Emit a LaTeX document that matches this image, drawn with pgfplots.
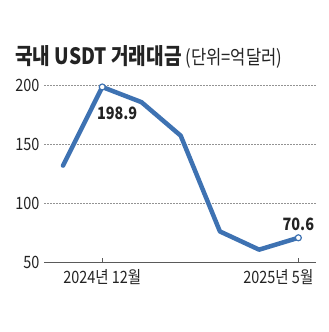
\documentclass[border=0pt]{standalone}
\usepackage{fontspec}
\setmainfont{Noto Sans CJK KR}[FakeStretch=0.85]
\usepackage{pgfplots}
\pgfplotsset{compat=1.18}
\definecolor{lineblue}{RGB}{62,114,178}
\definecolor{txt}{RGB}{35,35,35}
\begin{document}
\begin{tikzpicture}
\path[use as bounding box] (-44pt,-70pt) rectangle (285pt,262pt);
\begin{axis}[
  at={(0,0)}, anchor=south west, scale only axis,
  width=272pt, height=176.3pt,
  xmin=-0.485, xmax=6.45, ymin=50, ymax=200,
  clip=false,
  axis x line*=bottom, axis y line*=left,
  y axis line style={draw=none},
  x axis line style={draw=txt!75, line width=1pt},
  ytick={50,100,150,200},
  ytick style={draw=none},
  ymajorgrids,
  grid style={dash pattern=on 1.6pt off 1.4pt, gray!85, line width=0.6pt},
  xtick={1}, xticklabels={2024년 12월},
  extra x ticks={6}, extra x tick labels={2025년 5월},
  extra x tick style={xticklabel style={xshift=-20pt}, grid=none},
  xtick style={draw=txt!75, line width=0.8pt},
  tick align=inside, major tick length=4pt,
  tick label style={font=\fontsize{17}{17}\selectfont, text=txt},
  yticklabel style={xshift=-1pt},
  xticklabel style={yshift=-4pt},
  /pgf/number format/assume math mode=true,
]
\addplot[lineblue, line width=4.5pt, line join=round, line cap=round]
  coordinates {(0,132)(1,198.9)(2,186)(3,157.5)(4,76)(5,60.5)(6,70.6)};
\addplot[only marks, mark=*, mark size=3pt, mark options={fill=white, draw=lineblue, line width=1.2pt}]
  coordinates {(1,198.9)(6,70.6)};
\node[font=\bfseries\fontsize{17}{17}\selectfont, text=txt] at (axis cs:1.38,176.8) {198.9};
\node[font=\bfseries\fontsize{17}{17}\selectfont, text=txt] at (axis cs:6,82.3) {70.6};
\end{axis}
\node[anchor=base west, inner sep=0pt, text=txt] at (-29pt,197pt)
  {{\bfseries\fontsize{22.5}{22.5}\selectfont 국내 USDT 거래대금}\hspace{4pt}{\fontsize{19.5}{19.5}\selectfont (단위=억달러)}};
\end{tikzpicture}
\end{document}
